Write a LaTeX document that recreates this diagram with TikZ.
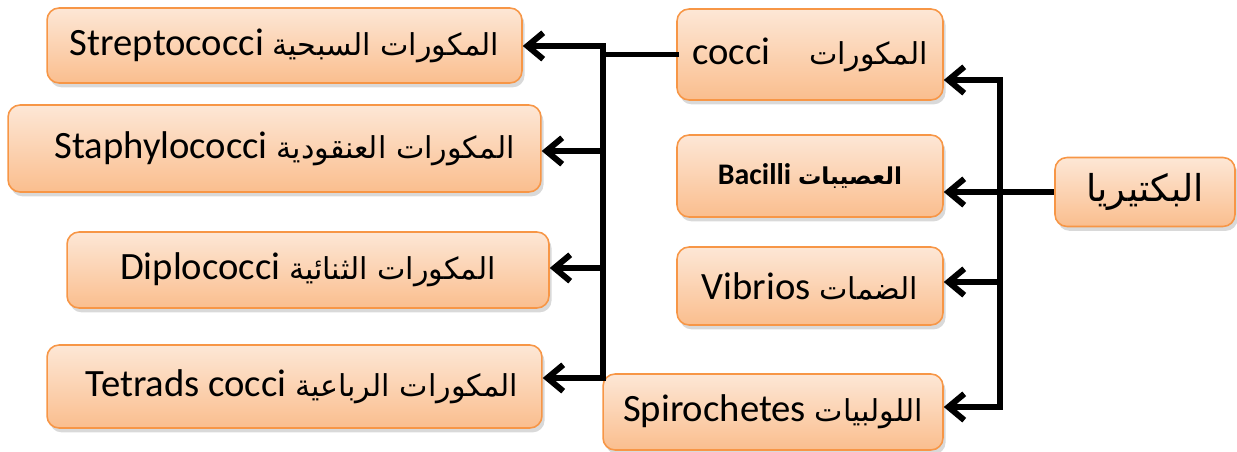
\documentclass[tikz,border=0pt]{standalone}
\usepackage{fontspec}
\setmainfont{Carlito}
\newfontfamily\arabicfont[Script=Arabic,Scale=0.78]{DejaVu Sans}
\TeXXeTstate=1
\usetikzlibrary{arrows.meta,shadows}
\definecolor{boxline}{RGB}{247,150,70}
\definecolor{boxtop}{RGB}{253,231,214}
\definecolor{boxbot}{RGB}{250,190,142}
\newcommand{\artext}[1]{{\arabicfont\beginR #1\endR}}

\begin{document}
\begin{tikzpicture}[x=0.02cm, y=-0.02cm,
    box/.style={rectangle, rounded corners=0.24cm, draw=boxline, line width=0.9pt,
        top color=boxtop, bottom color=boxbot, inner sep=0pt,
        drop shadow={shadow xshift=1.5pt, shadow yshift=-2.5pt, opacity=0.3},
        font=\fontsize{22}{25}\selectfont},
    ln/.style={line width=3.4pt, line cap=rect},
    arr/.style={line width=3.4pt, -{Straight Barb[length=9pt,width=15pt]}}]

    \useasboundingbox (0,0) rectangle (1237,452);

    % root
    \node[box, minimum width=3.6cm, minimum height=1.38cm, font=\fontsize{27}{30}\selectfont] (bakt) at (1145,192) {\artext{البكتيريا}};

    % shapes
    \node[box, minimum width=5.32cm, minimum height=1.82cm] (cocci) at (810,54.5) {cocci\quad\artext{المكورات}};
    \node[box, minimum width=5.32cm, minimum height=1.64cm, font=\fontsize{17}{20}\selectfont\bfseries] (bacil) at (810,176) {Bacilli \artext{العصيبات}};
    \node[box, minimum width=5.32cm, minimum height=1.56cm] (vibr) at (810,286) {Vibrios \artext{الضمات}};
    \node[box, minimum width=6.8cm, minimum height=1.52cm] (spiro) at (773,412) {Spirochetes \artext{اللولبيات}};

    % cocci groups
    \node[box, minimum width=9.5cm, minimum height=1.5cm] (strep) at (284.5,45.5) {Streptococci \artext{المكورات السبحية}};
    \node[box, minimum width=10.66cm, minimum height=1.74cm] (staph) at (274.5,148.5) {\hspace{0.4cm}Staphylococci \artext{المكورات العنقودية}};
    \node[box, minimum width=9.64cm, minimum height=1.52cm] (diplo) at (308,270) {Diplococci \artext{المكورات الثنائية}};
    \node[box, minimum width=9.9cm, minimum height=1.66cm] (tetra) at (294.5,386.5) {\hspace{0.3cm}Tetrads cocci \artext{المكورات الرباعية}};

    % right branch
    \coordinate (r1) at (1000,80);
    \coordinate (r3) at (1000,282);
    \coordinate (r4) at (1000,407);
    \draw[ln] (r1) -- (r4);
    \draw[arr] (bakt.west) -- (bakt.west -| bacil.east);
    \foreach \p/\b in {r1/cocci, r3/vibr, r4/spiro}
        \draw[arr] (\p) -- (\p -| \b.east);

    % left branch
    \coordinate (l1) at (603,46);
    \coordinate (l2) at (603,151);
    \coordinate (l3) at (603,268);
    \coordinate (l4) at (603,378);
    \draw[ln] (cocci.west) -- (cocci.west -| l1);
    \draw[ln] (l1) -- (l4);
    \foreach \p/\b in {l1/strep, l2/staph, l3/diplo, l4/tetra}
        \draw[arr] (\p) -- (\p -| \b.east);

\end{tikzpicture}
\end{document}
